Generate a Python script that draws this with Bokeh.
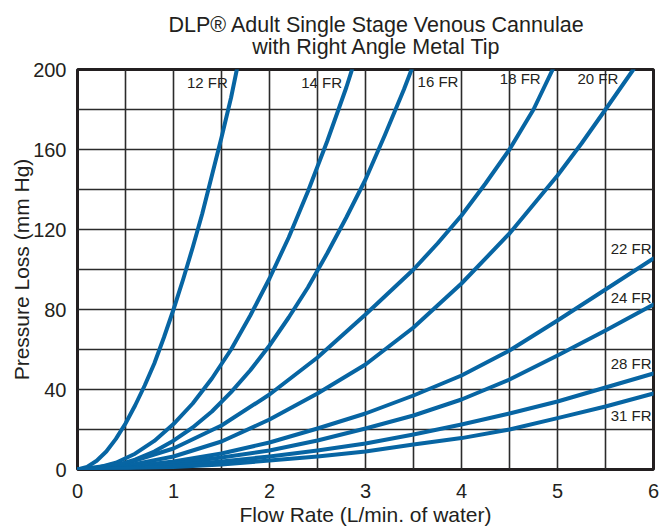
from bokeh.plotting import figure
from bokeh.models import FixedTicker, Title, Range1d, ColumnDataSource
from bokeh.core.properties import value
from bokeh.embed import file_html
from bokeh.resources import INLINE

# ---- data (flow L/min, pressure loss mmHg) ----
flow_12 = [0, 0.1, 0.2, 0.3, 0.4, 0.5, 0.6, 0.7, 0.8, 0.9, 1.0, 1.1, 1.2, 1.3, 1.4, 1.5, 1.6, 1.66]
loss_12 = [0, 1.3, 4.4, 9, 15.3, 23, 32, 42, 53, 66, 80, 95, 111, 128, 147, 166, 186, 200]

flow_14 = [0, 0.2, 0.4, 0.6, 0.8, 1.0, 1.2, 1.4, 1.6, 1.8, 2.0, 2.2, 2.4, 2.6, 2.8, 2.86]
loss_14 = [0, 0.8, 3.4, 7.9, 14.3, 22.7, 33, 45.5, 60, 77, 95.5, 116, 139, 164, 191, 200]

flow_16 = [0, 0.2, 0.4, 0.6, 0.8, 1.0, 1.2, 1.4, 1.6, 1.8, 2.0, 2.2, 2.4, 2.6, 2.8, 3.0, 3.2, 3.4, 3.48]
loss_16 = [0, 0.5, 2.1, 4.9, 9, 14.4, 21, 29, 38.7, 49.6, 62, 76, 91, 108, 126, 145, 167, 190, 200]

flow_18 = [0, 0.5, 1.0, 1.5, 2.0, 2.5, 3.0, 3.5, 3.75, 4.0, 4.25, 4.5, 4.75, 4.95]
loss_18 = [0, 3, 10.5, 22, 37.5, 56, 77.5, 100, 113, 127, 143, 160, 180, 200]

flow_20 = [0, 0.5, 1.0, 1.5, 2.0, 2.5, 3.0, 3.5, 4.0, 4.5, 5.0, 5.25, 5.5, 5.79]
loss_20 = [0, 1.8, 6.5, 14, 25, 38, 52.5, 71, 93, 118, 147, 163, 180, 200]

flow_22 = [0, 0.5, 1.0, 1.5, 2.0, 2.5, 3.0, 3.5, 4.0, 4.5, 5.0, 5.5, 6.0]
loss_22 = [0, 1.2, 4, 8, 13.5, 20.5, 28, 37, 47, 59.5, 74.5, 90, 105.5]

flow_24 = [0, 0.5, 1.0, 1.5, 2.0, 2.5, 3.0, 3.5, 4.0, 4.5, 5.0, 5.5, 6.0]
loss_24 = [0, 0.8, 3, 6, 9.5, 14.5, 20.5, 27, 35, 45, 57, 69.5, 82.5]

flow_28 = [0, 0.5, 1.0, 1.5, 2.0, 2.5, 3.0, 3.5, 4.0, 4.5, 5.0, 5.5, 6.0]
loss_28 = [0, 0.6, 2, 4, 6.5, 9.5, 13, 17.5, 22.5, 28, 34, 41, 48]

flow_31 = [0, 0.5, 1.0, 1.5, 2.0, 2.5, 3.0, 3.5, 4.0, 4.5, 5.0, 5.5, 6.0]
loss_31 = [0, 0.4, 1.2, 2.5, 4.5, 6.5, 9, 12.5, 15.7, 20, 25.7, 31.5, 38]

series_names = ["12 FR", "14 FR", "16 FR", "18 FR", "20 FR", "22 FR", "24 FR", "28 FR", "31 FR"]
series_flow = [flow_12, flow_14, flow_16, flow_18, flow_20, flow_22, flow_24, flow_28, flow_31]
series_loss = [loss_12, loss_14, loss_16, loss_18, loss_20, loss_22, loss_24, loss_28, loss_31]

x_ticks = [0, 1, 2, 3, 4, 5, 6]
y_ticks = [0, 40, 80, 120, 160, 200]
x_grid = [0, 0.5, 1, 1.5, 2, 2.5, 3, 3.5, 4, 4.5, 5, 5.5, 6]
y_grid = [0, 20, 40, 60, 80, 100, 120, 140, 160, 180, 200]

title_line1 = "DLP\u00ae Adult Single Stage Venous Cannulae"
title_line2 = "with Right Angle Metal Tip"

# ---- styling of the curve labels (pixel offsets from each curve's end point) ----
label_style = {
    "12 FR": (-9, 13, "right"),
    "14 FR": (-10, 13, "right"),
    "16 FR": (6, 12, "left"),
    "18 FR": (-12, 9, "right"),
    "20 FR": (-15, 9, "right"),
    "22 FR": (-2, -10, "right"),
    "24 FR": (-2, -7, "right"),
    "28 FR": (-2, -10, "right"),
    "31 FR": (-2, 22, "right"),
}

FONT = "Liberation Sans"
TXT = "#231f20"
BLUE = "#0765a3"
INDENT = "\u00a0" * 14   # centres the second title line under the first

p = figure(frame_width=576, frame_height=400,
           x_range=Range1d(0, 6), y_range=Range1d(0, 200),
           output_backend="svg", toolbar_location=None,
           min_border_left=77, min_border_top=68, min_border_right=12, min_border_bottom=56,
           background_fill_color="white", border_fill_color="white")

p.add_layout(Title(text=title_line1 + "\n" + INDENT + title_line2, align="left", offset=91,
                   text_font=FONT, text_font_size="21.5px", text_font_style="normal",
                   text_line_height=0.95, text_color=TXT, standoff=20), "above")

p.outline_line_color = TXT
p.outline_line_width = 3

p.xaxis.ticker = FixedTicker(ticks=x_ticks)
p.yaxis.ticker = FixedTicker(ticks=y_ticks)
p.xgrid.ticker = FixedTicker(ticks=x_grid)
p.ygrid.ticker = FixedTicker(ticks=y_grid)
for g in (p.xgrid, p.ygrid):
    g.grid_line_color = "#2b2b2b"
    g.grid_line_width = 1.6
    g.grid_line_alpha = 1.0

for ax in (p.xaxis, p.yaxis):
    ax.axis_line_color = None
    ax.major_tick_line_color = None
    ax.minor_tick_line_color = None
    ax.major_label_text_font = FONT
    ax.major_label_text_font_size = "20px"
    ax.major_label_text_color = TXT
    ax.axis_label_text_font = FONT
    ax.axis_label_text_font_size = "21px"
    ax.axis_label_text_font_style = "normal"
    ax.axis_label_text_color = TXT

p.xaxis.axis_label = "Flow Rate (L/min. of water)"
p.yaxis.axis_label = "Pressure Loss (mm Hg)"
p.xaxis.major_label_standoff = 8
p.xaxis.axis_label_standoff = 2
p.yaxis.major_label_standoff = 5
p.yaxis.axis_label_standoff = -3

for name, fx, ly in zip(series_names, series_flow, series_loss):
    p.line(fx, ly, line_color=BLUE, line_width=4, line_cap="round", line_join="round")

lab = ColumnDataSource(dict(
    x=[fx[-1] for fx in series_flow],
    y=[ly[-1] for ly in series_loss],
    text=series_names,
    xo=[label_style[n][0] for n in series_names],
    yo=[label_style[n][1] for n in series_names],
    al=[label_style[n][2] for n in series_names],
))
p.text(x="x", y="y", text="text", x_offset="xo", y_offset="yo", text_align="al",
       text_baseline="middle", text_font=value(FONT), text_font_size="15px",
       text_color=TXT, source=lab)

open("out.html", "w").write(file_html(p, INLINE))
